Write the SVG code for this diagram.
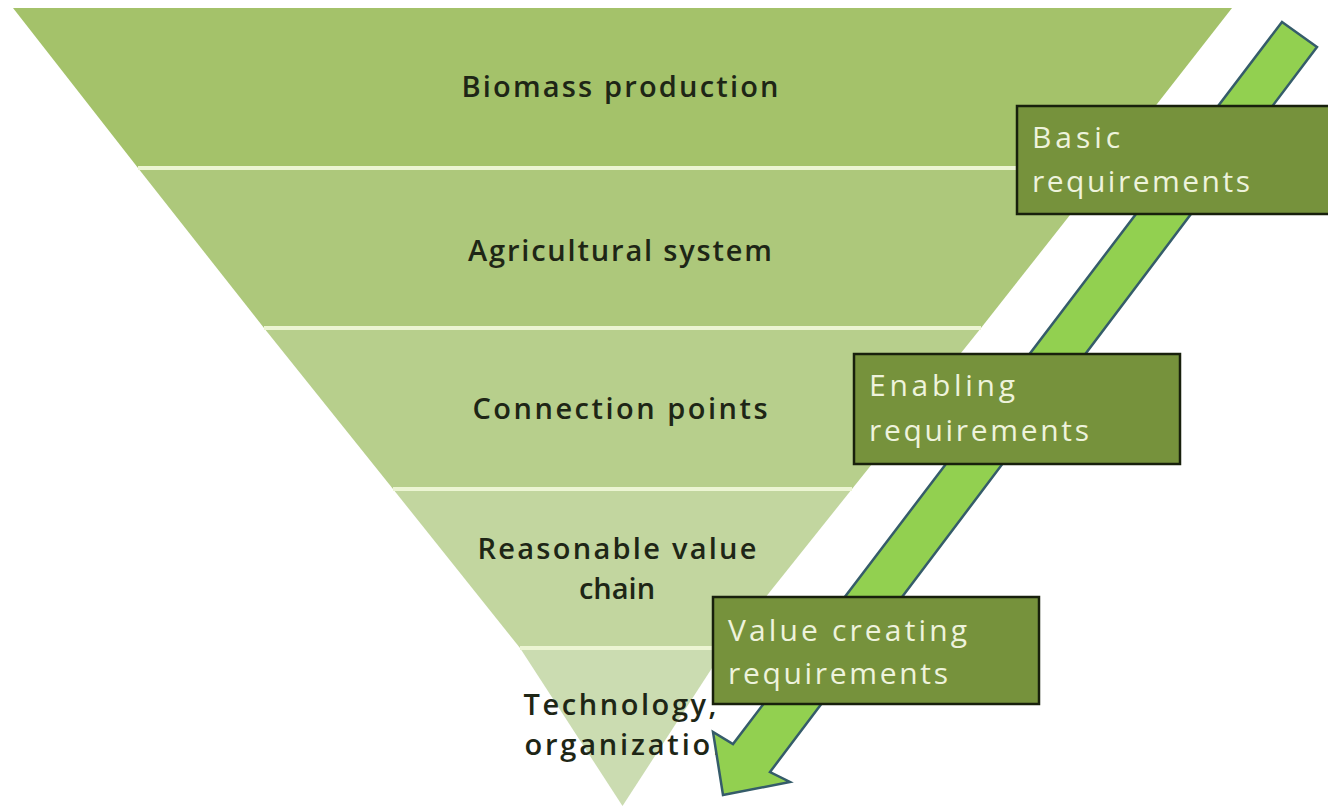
<svg xmlns="http://www.w3.org/2000/svg" width="1328" height="806" viewBox="0 0 1328 806">
<style>
.lt{font-family:"Open Sans","Liberation Sans",sans-serif;font-size:29px;font-weight:600;fill:#1e2616;text-anchor:middle;}
.bt{font-family:"Open Sans","Liberation Sans",sans-serif;font-size:30px;fill:#eef3dc;}
.box{fill:#76923c;stroke:#18200c;stroke-width:2.5;}
.sep{stroke:#ecf5d3;stroke-width:4;}
</style>
<rect width="1328" height="806" fill="#ffffff"/>
<g id="pyramid">
<g id="layer1"><polygon points="13,8 1232,8 1107,168 138,168" fill="#a4c26a"/><text class="lt" x="620" y="97" textLength="317" lengthAdjust="spacing">Biomass production</text></g>
<g id="layer2"><polygon points="138,168 1107,168 981,328 264,328" fill="#adc87b"/><text class="lt" x="620" y="261" textLength="304" lengthAdjust="spacing">Agricultural system</text></g>
<g id="layer3"><polygon points="264,328 981,328 852,489 393,489" fill="#b7cf8c"/><text class="lt" x="620" y="419" textLength="295" lengthAdjust="spacing">Connection points</text></g>
<g id="layer4"><polygon points="393,489 852,489 725,648 520,648" fill="#c2d69f"/><text class="lt" x="617" y="559" textLength="279" lengthAdjust="spacing">Reasonable value</text><text class="lt" x="617" y="599">chain</text></g>
<g id="layer5"><polygon points="520,648 725,648 622.5,806 " fill="#cbdcb1"/><text class="lt" x="620" y="715" textLength="193" lengthAdjust="spacing">Technology,</text><text class="lt" x="628" y="755" textLength="207" lengthAdjust="spacing">organization</text></g>
<line class="sep" x1="138" y1="168" x2="1107" y2="168"/>
<line class="sep" x1="264" y1="328" x2="981" y2="328"/>
<line class="sep" x1="393" y1="489" x2="852" y2="489"/>
<line class="sep" x1="520" y1="648" x2="725" y2="648"/>
</g>
<g id="connectors">
<polygon points="1282,22 1317,47 770,772 790,782 723,795 713,732 733,744" fill="#92d050" stroke="#355c6a" stroke-width="2.5" stroke-linejoin="miter"/>
</g>
<g id="box-basic"><rect class="box" x="1017" y="106" width="330" height="108"/><text class="bt" x="1032" y="148" textLength="88" lengthAdjust="spacing">Basic</text><text class="bt" x="1032" y="192" textLength="218" lengthAdjust="spacing">requirements</text></g>
<g id="box-enabling"><rect class="box" x="854" y="354" width="326" height="110"/><text class="bt" x="869" y="396" textLength="146" lengthAdjust="spacing">Enabling</text><text class="bt" x="869" y="441" textLength="220" lengthAdjust="spacing">requirements</text></g>
<g id="box-value"><rect class="box" x="713" y="597" width="326" height="107"/><text class="bt" x="728" y="641" textLength="239" lengthAdjust="spacing">Value creating</text><text class="bt" x="728" y="684" textLength="220" lengthAdjust="spacing">requirements</text></g>
</svg>
